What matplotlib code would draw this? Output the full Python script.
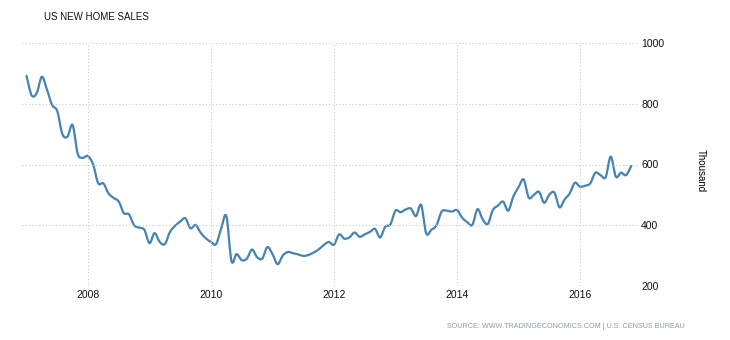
import numpy as np
import matplotlib
matplotlib.use('Agg')
import matplotlib.pyplot as plt
from matplotlib.path import Path
from matplotlib.patches import PathPatch

# monthly new home sales, thousands, Jan 2007 .. Nov 2016
start_year = 2007
sales = [
    892, 828, 835, 889, 846, 796, 776, 700, 692, 730, 635, 622,   # 2007
    628, 600, 538, 538, 505, 490, 478, 440, 436, 400, 392, 385,   # 2008
    341, 374, 345, 338, 378, 398, 412, 423, 390, 401, 375, 357,   # 2009
    345, 338, 390, 430, 282, 305, 285, 290, 320, 295, 290, 328,   # 2010
    305, 272, 300, 312, 308, 304, 299, 302, 310, 320, 335, 345,   # 2011
    336, 370, 356, 360, 376, 362, 370, 378, 388, 360, 395, 403,   # 2012
    448, 443, 452, 455, 430, 467, 373, 385, 400, 445, 448, 445,   # 2013
    450, 425, 410, 401, 453, 420, 404, 450, 465, 478, 448, 495,   # 2014
    525, 551, 491, 500, 510, 474, 500, 508, 459, 485, 505, 540,   # 2015
    527, 530, 538, 573, 565, 558, 626, 560, 573, 565, 595,        # 2016
]
year_ticks = [2008, 2010, 2012, 2014, 2016]
value_ticks = [200, 400, 600, 800, 1000]

t = start_year + np.arange(len(sales)) / 12.0
y = np.array(sales, dtype=float)


def spline_path(x, y, k=1 / 6):
    # cubic bezier through every point (catmull-rom style control handles)
    verts = [(x[0], y[0])]
    codes = [Path.MOVETO]
    n = len(x)
    for i in range(n - 1):
        x0, y0 = (x[i - 1], y[i - 1]) if i > 0 else (x[i], y[i])
        x3, y3 = (x[i + 2], y[i + 2]) if i + 2 < n else (x[i + 1], y[i + 1])
        c1 = (x[i] + (x[i + 1] - x0) * k, y[i] + (y[i + 1] - y0) * k)
        c2 = (x[i + 1] - (x3 - x[i]) * k, y[i + 1] - (y3 - y[i]) * k)
        verts += [c1, c2, (x[i + 1], y[i + 1])]
        codes += [Path.CURVE4] * 3
    return Path(verts, codes)


fig = plt.figure(figsize=(7.3, 3.4), dpi=100)
ax = fig.add_axes([22 / 730, 1 - 286 / 340, 615 / 730, 243 / 340])

ax.add_patch(PathPatch(spline_path(t, y), fill=False, edgecolor='#4682b4', lw=1.6,
                       joinstyle='round', capstyle='round'))

ax.set_xlim(2006.927, 2016.927)
ax.set_ylim(200, 1000)
ax.set_xticks(year_ticks)
ax.set_yticks(value_ticks)
ax.yaxis.tick_right()
ax.tick_params(length=0, labelsize=7.5, pad=3, labelcolor='#111111')
for lab in ax.get_xticklabels() + ax.get_yticklabels():
    lab.set_family('Liberation Sans')
ax.grid(True, color='#c8c8c8', linestyle=(0, (1, 2)), lw=0.8)
for s in ax.spines.values():
    s.set_visible(False)

fig.text(44 / 730, 1 - 17 / 340, 'US NEW HOME SALES', fontsize=7, family='Liberation Sans',
         va='center', ha='left', color='#111111')
fig.text(701 / 730, 1 - 171 / 340, 'Thousand', rotation=-90, fontsize=7, family='Liberation Sans',
         va='center', ha='center')
fig.text(685 / 730, 1 - 326 / 340, 'SOURCE: WWW.TRADINGECONOMICS.COM | U.S. CENSUS BUREAU',
         fontsize=5.2, family='Liberation Sans', color='#8a9bb0', ha='right', va='center')

fig.savefig('out.png', dpi=100)
